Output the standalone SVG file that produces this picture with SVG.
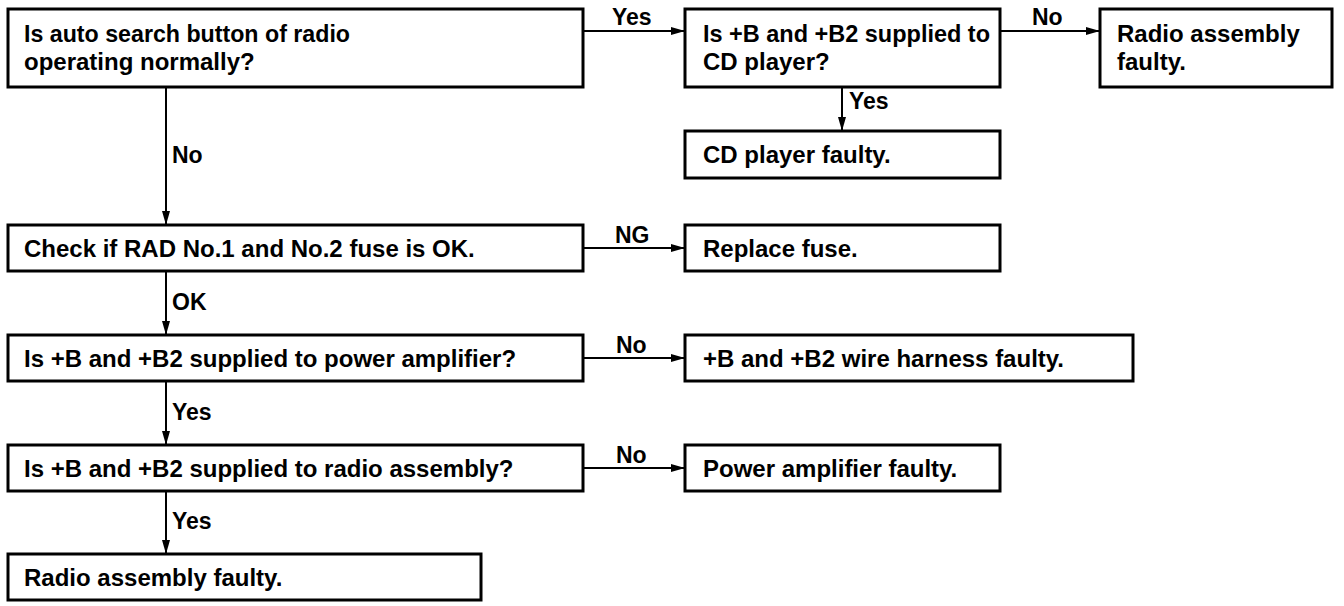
<svg xmlns="http://www.w3.org/2000/svg" width="1344" height="606" viewBox="0 0 1344 606">
<defs>
<marker id="ah" markerWidth="14" markerHeight="10" refX="13" refY="5" orient="auto" markerUnits="userSpaceOnUse">
<path d="M0,1 L14,5 L0,9 Z" fill="#000"/>
</marker>
<style>
.box{fill:#fff;stroke:#000;stroke-width:3}
.t{font-family:"Liberation Sans",Arial,sans-serif;font-weight:bold;font-size:24px;fill:#000}
.l{font-family:"Liberation Sans",Arial,sans-serif;font-weight:bold;font-size:23px;fill:#000}
.c{stroke:#000;stroke-width:2;fill:none;marker-end:url(#ah)}
</style>
</defs>
<rect width="1344" height="606" fill="#fff"/>
<g id="connectors">
<line class="c" x1="583" y1="31" x2="684" y2="31"/>
<text class="l" x="612" y="25">Yes</text>
<line class="c" x1="1000" y1="31" x2="1099" y2="31"/>
<text class="l" x="1032" y="25">No</text>
<line class="c" x1="842" y1="87" x2="842" y2="130"/>
<text class="l" x="849" y="109">Yes</text>
<line class="c" x1="166" y1="87" x2="166" y2="224"/>
<text class="l" x="172" y="163">No</text>
<line class="c" x1="583" y1="248" x2="684" y2="248"/>
<text class="l" x="615" y="243">NG</text>
<line class="c" x1="166" y1="271" x2="166" y2="334"/>
<text class="l" x="172" y="310">OK</text>
<line class="c" x1="583" y1="358" x2="684" y2="358"/>
<text class="l" x="616" y="353">No</text>
<line class="c" x1="166" y1="381" x2="166" y2="444"/>
<text class="l" x="172" y="420">Yes</text>
<line class="c" x1="583" y1="468" x2="684" y2="468"/>
<text class="l" x="616" y="463">No</text>
<line class="c" x1="166" y1="491" x2="166" y2="553"/>
<text class="l" x="172" y="529">Yes</text>
</g>
<g id="n1"><rect class="box" x="8" y="9" width="575" height="78"/>
<text class="t" x="24" y="42" textLength="326" lengthAdjust="spacingAndGlyphs">Is auto search button of radio</text>
<text class="t" x="24" y="70">operating normally?</text></g>
<g id="n2"><rect class="box" x="685" y="9" width="315" height="78"/>
<text class="t" x="703" y="42" textLength="287" lengthAdjust="spacingAndGlyphs">Is +B and +B2 supplied to</text>
<text class="t" x="703" y="70">CD player?</text></g>
<g id="n3"><rect class="box" x="1100" y="9" width="232" height="78"/>
<text class="t" x="1117" y="42">Radio assembly</text>
<text class="t" x="1117" y="70">faulty.</text></g>
<g id="n4"><rect class="box" x="685" y="131" width="315" height="47"/>
<text class="t" x="703" y="163">CD player faulty.</text></g>
<g id="n5"><rect class="box" x="8" y="225" width="575" height="46"/>
<text class="t" x="24" y="257">Check if RAD No.1 and No.2 fuse is OK.</text></g>
<g id="n6"><rect class="box" x="685" y="225" width="315" height="46"/>
<text class="t" x="703" y="257">Replace fuse.</text></g>
<g id="n7"><rect class="box" x="8" y="335" width="575" height="46"/>
<text class="t" x="24" y="367">Is +B and +B2 supplied to power amplifier?</text></g>
<g id="n8"><rect class="box" x="685" y="335" width="448" height="46"/>
<text class="t" x="703" y="367">+B and +B2 wire harness faulty.</text></g>
<g id="n9"><rect class="box" x="8" y="445" width="575" height="46"/>
<text class="t" x="24" y="477">Is +B and +B2 supplied to radio assembly?</text></g>
<g id="n10"><rect class="box" x="685" y="445" width="315" height="46"/>
<text class="t" x="703" y="477">Power amplifier faulty.</text></g>
<g id="n11"><rect class="box" x="8" y="554" width="473" height="46"/>
<text class="t" x="24" y="586">Radio assembly faulty.</text></g>
</svg>
